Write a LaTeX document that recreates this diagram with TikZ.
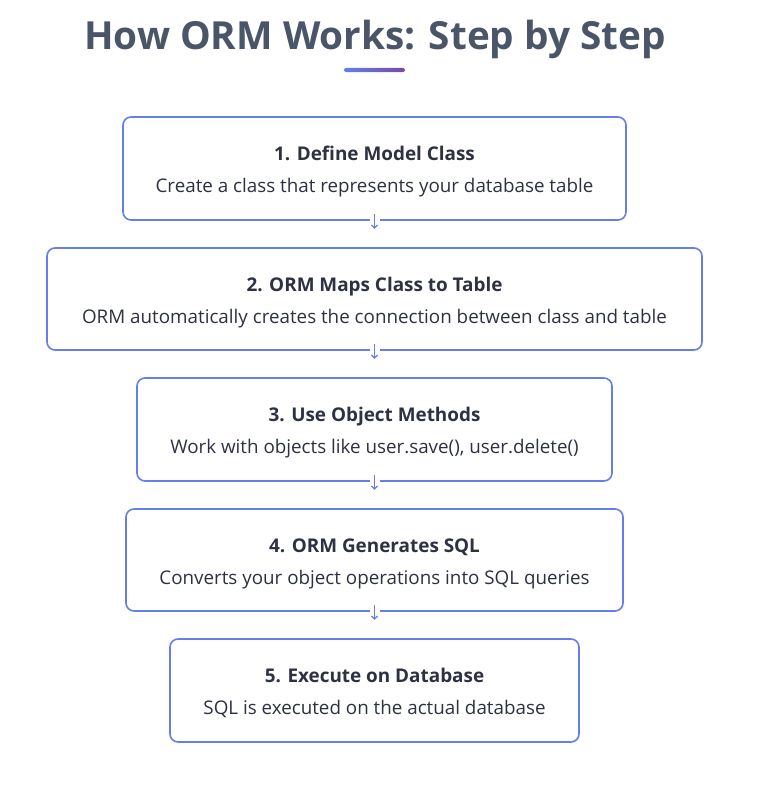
\documentclass[tikz,border=0pt]{standalone}
\usepackage{fontspec}
\setmainfont{Open Sans}
\usetikzlibrary{positioning,arrows.meta}
\definecolor{bordc}{HTML}{667EEA}
\definecolor{purp}{HTML}{764BA2}
\definecolor{titc}{HTML}{4A5568}
\definecolor{txtc}{HTML}{2D3142}
\tikzset{
  stepbox/.style={draw=bordc, line width=1.6pt, rounded corners=8pt, fill=white, inner sep=0pt},
  headtxt/.style={font=\fontsize{18.9}{22}\selectfont\bfseries, text=txtc, inner sep=0pt, anchor=base},
  bodytxt/.style={font=\fontsize{18.8}{22}\selectfont, text=txtc, inner sep=0pt, anchor=base},
  gapbox/.style={fill=white, minimum width=10pt, minimum height=4pt, inner sep=0pt},
  arr/.style={draw=bordc, line width=1.2pt, -{Straight Barb[length=3pt,width=6pt]}}
}
\begin{document}
\begin{tikzpicture}[x=1pt,y=-1pt]
\useasboundingbox (0,0) rectangle (776,800);
\node[font=\fontsize{38.7}{44}\selectfont\bfseries, text=titc, inner sep=0pt, anchor=base] (title) at (375,50) {How ORM Works: Step by Step};
\shade[left color=bordc, right color=purp, rounded corners=2pt] (344,68) rectangle (405,72);
\coordinate (ul) at (374.5,70);
% boxes
\node[stepbox, minimum width=503pt, minimum height=103pt] (b1) at (374.5,168.5) {};
\node[stepbox, minimum width=655pt, minimum height=102pt] (b2) at (374.5,299) {};
\node[stepbox, minimum width=475pt, minimum height=103pt] (b3) at (374.5,429.5) {};
\node[stepbox, minimum width=497pt, minimum height=102pt] (b4) at (374.5,560) {};
\node[stepbox, minimum width=409pt, minimum height=103pt] (b5) at (374.5,690.5) {};
% texts
\node[headtxt] (h1) at (374.5,160.5) {1. Define Model Class};
\node[bodytxt] (t1) at (374.5,192.5) {Create a class that represents your database table};
\node[headtxt] (h2) at (374.5,291.5) {2. ORM Maps Class to Table};
\node[bodytxt] (t2) at (374.5,323.5) {ORM automatically creates the connection between class and table};
\node[headtxt] (h3) at (374.5,421.5) {3. Use Object Methods};
\node[bodytxt] (t3) at (374.5,453.5) {Work with objects like user.save(), user.delete()};
\node[headtxt] (h4) at (374.5,552.5) {4. ORM Generates SQL};
\node[bodytxt] (t4) at (374.5,584.5) {Converts your object operations into SQL queries};
\node[headtxt] (h5) at (374.5,682.5) {5. Execute on Database};
\node[bodytxt] (t5) at (374.5,714.5) {SQL is executed on the actual database};
% arrows
\foreach \b in {b1,b2,b3,b4}{
  \node[gapbox] (g\b) at (\b.south) {};
  \draw[arr] ([yshift=7pt]g\b.center) -- ([yshift=-8pt]g\b.center);
}
\end{tikzpicture}
\end{document}
